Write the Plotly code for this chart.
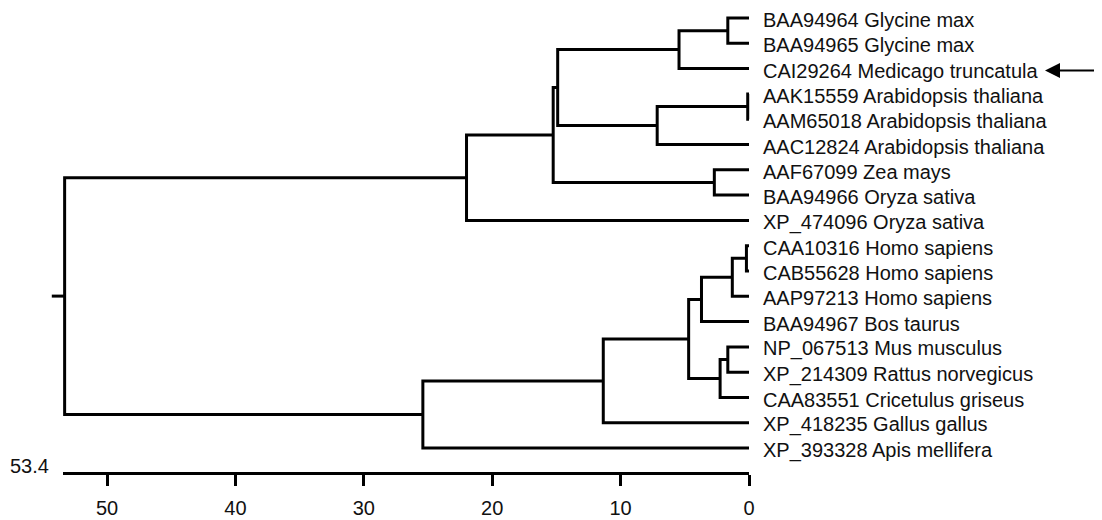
import plotly.graph_objects as go

# ---------------- data ----------------
leaf_ids = ["BAA94964", "BAA94965", "CAI29264", "AAK15559", "AAM65018", "AAC12824",
            "AAF67099", "BAA94966", "XP_474096", "CAA10316", "CAB55628", "AAP97213",
            "BAA94967", "NP_067513", "XP_214309", "CAA83551", "XP_418235", "XP_393328"]
leaf_species = ["Glycine max", "Glycine max", "Medicago truncatula", "Arabidopsis thaliana",
                "Arabidopsis thaliana", "Arabidopsis thaliana", "Zea mays", "Oryza sativa",
                "Oryza sativa", "Homo sapiens", "Homo sapiens", "Homo sapiens", "Bos taurus",
                "Mus musculus", "Rattus norvegicus", "Cricetulus griseus", "Gallus gallus",
                "Apis mellifera"]

# linkage: new node id = n_leaves + row index
merge_a = [0, 3, 9, 6, 13, 20, 22, 23, 18, 19, 25, 28, 26, 30, 31, 29, 32]
merge_b = [1, 4, 10, 7, 14, 11, 15, 12, 2, 5, 24, 16, 27, 21, 8, 17, 33]
merge_h = [1.65, 0.1, 0.2, 2.7, 1.65, 1.3, 2.25, 3.7, 5.45, 7.15, 4.7, 11.35,
           14.9, 15.25, 22.0, 25.4, 53.3]
root_stub = 1.0

axis_max = 53.4
axis_ticks = [0, 10, 20, 30, 40, 50]
highlight_leaf = "CAI29264"

# ---------------- geometry ----------------
n = len(leaf_ids)
node_h = [0.0] * n
node_y = [float(i) for i in range(n)]
xs, ys = [], []
for a, b, h in zip(merge_a, merge_b, merge_h):
    xs += [node_h[a], h, h, node_h[b], None]
    ys += [node_y[a], node_y[a], node_y[b], node_y[b], None]
    node_h.append(h)
    node_y.append((node_y[a] + node_y[b]) / 2)
xs += [node_h[-1], node_h[-1] + root_stub, None]
ys += [node_y[-1], node_y[-1], None]

# page layout (browser body has an 8px margin)
OFF = 8
PW, PH = 1102, 520
W, H = PW - OFF, PH - OFF
L, R, T, B = 40, 760, 10, 472          # plot area in page pixels
px0, ppu = 749.0, 12.84                 # page pixel of value 0, pixels per unit
row0, rowstep = 18.0, 25.3
x_left = (px0 - L) / ppu
x_right = (px0 - R) / ppu
y_top = (T - row0) / rowstep
y_bot = (B - row0) / rowstep
dom2 = [((px0 - ppu * axis_max) - L) / (R - L), (px0 - L) / (R - L)]

FONT = "Liberation Sans, Arial, sans-serif"
FS = 20

fig = go.Figure()
fig.add_trace(go.Scatter(x=xs, y=ys, mode="lines",
                         line=dict(color="black", width=3),
                         hoverinfo="skip", showlegend=False))
fig.add_trace(go.Scatter(x=[axis_max, 0], y=[0, 0], xaxis="x2", yaxis="y2",
                         mode="markers", marker=dict(opacity=0),
                         hoverinfo="skip", showlegend=False))

annotations = []
for i, (lid, sp) in enumerate(zip(leaf_ids, leaf_species)):
    annotations.append(dict(x=0, y=i, xref="x", yref="y", text=f"{lid} {sp}",
                            showarrow=False, xanchor="left", yanchor="middle",
                            xshift=12, yshift=-2,
                            font=dict(family=FONT, size=FS, color="#111")))
annotations.append(dict(x=(63 - L) / (R - L), y=(B - 466 + 0.0) / (B - T) * 0 + (B - 466) / (B - T),
                        xref="paper", yref="paper", text=f"{axis_max}",
                        showarrow=False, xanchor="right", yanchor="middle",
                        xshift=-12,
                        font=dict(family=FONT, size=FS, color="#111")))
hi = leaf_ids.index(highlight_leaf)
annotations.append(dict(x=(1045 - L) / (R - L), y=hi + 2 / rowstep, xref="paper", yref="y",
                        text="", showarrow=True, arrowhead=2, arrowwidth=2, arrowsize=1.5,
                        arrowcolor="black", ax=70, ay=0))

fig.update_layout(
    width=W, height=H,
    margin=dict(l=L - OFF, r=W - (R - OFF), t=T - OFF, b=H - (B - OFF), pad=0),
    plot_bgcolor="rgba(0,0,0,0)", paper_bgcolor="white",
    showlegend=False,
    xaxis=dict(range=[x_left, x_right], visible=False, fixedrange=True),
    yaxis=dict(range=[y_bot, y_top], visible=False, fixedrange=True),
    xaxis2=dict(range=[axis_max, 0], domain=dom2, anchor="y2",
                showline=True, linecolor="black", linewidth=3,
                ticks="outside", ticklen=11, tickwidth=3, tickcolor="black",
                tickvals=axis_ticks, ticktext=[str(t) for t in axis_ticks],
                ticklabelstandoff=5,
                tickfont=dict(family=FONT, size=FS, color="#111"),
                showgrid=False, zeroline=False, fixedrange=True),
    yaxis2=dict(domain=[0, 0.005], range=[0, 1], anchor="x2", visible=False,
                fixedrange=True),
    annotations=annotations,
)

fig.write_html("out.html")
